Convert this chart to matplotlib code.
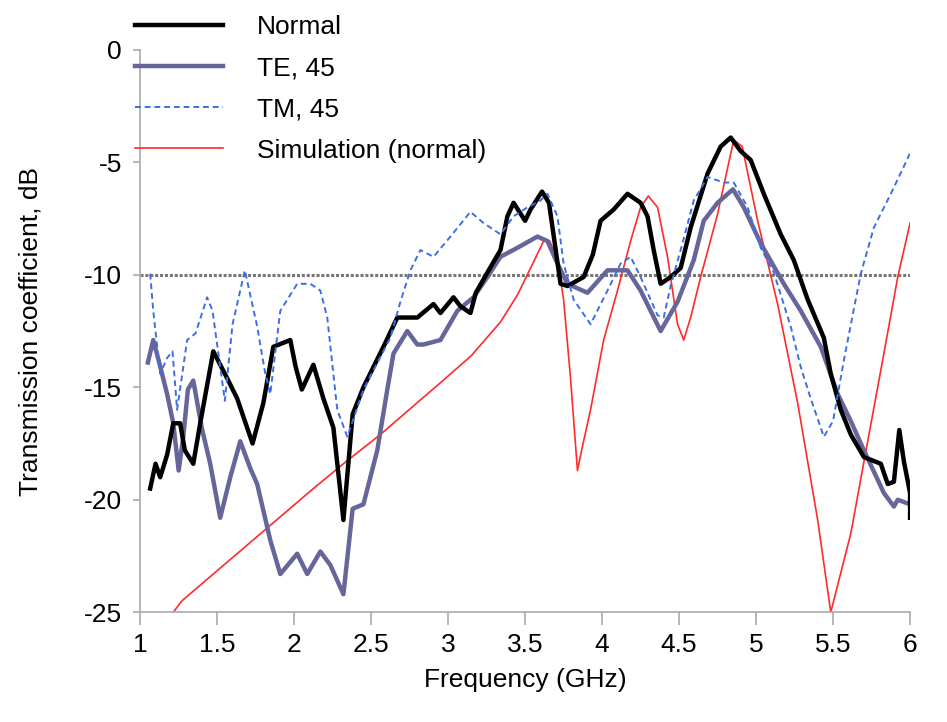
import matplotlib.pyplot as plt

# Normal incidence (measured)
normal_f = [1.065, 1.10, 1.13, 1.175, 1.215, 1.26, 1.29, 1.345, 1.39, 1.475, 1.565, 1.63, 1.73,
            1.80, 1.865, 1.975, 2.01, 2.05, 2.125, 2.19, 2.255, 2.32, 2.38, 2.45, 2.58, 2.67,
            2.80, 2.905, 2.95, 3.035, 3.08, 3.145, 3.18, 3.255, 3.34, 3.385, 3.425, 3.50, 3.535,
            3.61, 3.655, 3.73, 3.775, 3.88, 3.94, 3.99, 4.075, 4.165, 4.25, 4.295, 4.335, 4.38,
            4.445, 4.51, 4.575, 4.685, 4.77, 4.835, 4.90, 4.965, 5.05, 5.16, 5.245, 5.335, 5.44,
            5.485, 5.55, 5.615, 5.70, 5.81, 5.855, 5.895, 5.93, 5.96, 6.0, 6.0]
normal_db = [-19.5, -18.4, -19.0, -18.0, -16.6, -16.6, -17.8, -18.4, -16.6, -13.4, -14.6, -15.5, -17.5,
             -15.7, -13.2, -12.9, -14.1, -15.1, -14.0, -15.5, -16.8, -20.9, -16.2, -15.0, -13.2, -11.9,
             -11.9, -11.3, -11.7, -11.0, -11.4, -11.7, -10.8, -9.9, -8.9, -7.4, -6.8, -7.6, -7.1,
             -6.3, -6.8, -10.4, -10.5, -10.1, -9.1, -7.6, -7.1, -6.4, -6.8, -7.4, -8.9, -10.4,
             -10.1, -9.7, -7.9, -5.5, -4.3, -3.9, -4.5, -4.9, -6.4, -8.2, -9.35, -11.1, -12.8,
             -14.4, -16.0, -17.1, -18.1, -18.4, -19.3, -19.2, -16.9, -18.3, -19.7, -20.8]

# TE, 45 deg
te_f = [1.05, 1.085, 1.12, 1.175, 1.215, 1.25, 1.28, 1.31, 1.345, 1.40, 1.455, 1.52, 1.585, 1.65,
        1.715, 1.76, 1.845, 1.91, 2.02, 2.085, 2.17, 2.235, 2.32, 2.38, 2.45, 2.54, 2.605, 2.645,
        2.735, 2.80, 2.84, 2.95, 3.06, 3.165, 3.255, 3.34, 3.45, 3.58, 3.645, 3.71, 3.775, 3.905,
        4.035, 4.165, 4.25, 4.38, 4.49, 4.595, 4.66, 4.75, 4.85, 4.92, 5.03, 5.18, 5.29, 5.42,
        5.53, 5.615, 5.70, 5.83, 5.895, 5.92, 6.0]
te_db = [-13.9, -12.9, -13.8, -15.3, -16.6, -18.7, -17.2, -15.1, -14.7, -16.8, -18.4, -20.8, -19.0, -17.4,
         -18.6, -19.3, -21.8, -23.3, -22.4, -23.3, -22.3, -22.9, -24.2, -20.4, -20.2, -17.8, -15.1, -13.5,
         -12.5, -13.1, -13.1, -12.9, -11.6, -11.0, -10.1, -9.2, -8.8, -8.3, -8.5, -9.5, -10.4, -10.8,
         -9.8, -9.8, -10.7, -12.5, -11.2, -9.35, -7.6, -6.8, -6.2, -7.0, -8.6, -10.4, -11.6, -13.2,
         -15.3, -16.5, -17.8, -19.7, -20.3, -20.0, -20.2]

# TM, 45 deg
tm_f = [1.065, 1.085, 1.13, 1.175, 1.21, 1.24, 1.28, 1.305, 1.36, 1.435, 1.47, 1.50, 1.55, 1.60,
        1.68, 1.76, 1.81, 1.845, 1.91, 2.02, 2.105, 2.17, 2.215, 2.28, 2.345, 2.45, 2.625, 2.69,
        2.755, 2.82, 2.905, 3.015, 3.145, 3.23, 3.34, 3.425, 3.515, 3.60, 3.645, 3.71, 3.75, 3.815,
        3.925, 4.035, 4.12, 4.185, 4.25, 4.36, 4.40, 4.445, 4.53, 4.595, 4.685, 4.79, 4.855, 4.945,
        5.03, 5.115, 5.225, 5.29, 5.355, 5.44, 5.50, 5.57, 5.68, 5.765, 5.875, 6.0]
tm_db = [-9.95, -11.6, -14.4, -13.7, -13.4, -16.0, -14.1, -12.9, -12.6, -11.0, -11.6, -13.1, -15.6, -12.2,
         -9.8, -12.3, -14.3, -15.3, -11.6, -10.4, -10.4, -10.7, -11.9, -16.0, -17.2, -15.1, -12.8, -11.2,
         -9.8, -8.9, -9.2, -8.3, -7.2, -7.7, -8.2, -7.4, -7.0, -6.7, -6.4, -7.4, -9.5, -11.1,
         -12.2, -10.7, -9.5, -9.2, -10.1, -11.8, -11.9, -10.5, -8.4, -6.7, -5.65, -5.9, -5.9, -7.0,
         -8.8, -9.9, -12.3, -14.1, -15.5, -17.2, -16.5, -13.8, -9.95, -7.9, -6.4, -4.6]

# Simulation (normal)
sim_f = [1.215, 1.27, 1.475, 1.80, 2.125, 2.32, 2.56, 2.78, 2.95, 3.15, 3.34, 3.45, 3.55, 3.62, 3.66,
         3.71, 3.75, 3.795, 3.84, 3.87, 3.925, 4.01, 4.10, 4.185, 4.25, 4.30, 4.36, 4.425, 4.49, 4.53,
         4.575, 4.64, 4.75, 4.855, 4.91, 5.01, 5.14, 5.27, 5.40, 5.485, 5.615, 5.725, 5.83, 5.92, 6.0]
sim_db = [-25.0, -24.5, -23.3, -21.4, -19.5, -18.4, -17.1, -15.8, -14.8, -13.6, -12.1, -10.9, -9.5, -8.5, -8.5,
          -9.35, -11.1, -14.6, -18.7, -17.7, -16.0, -12.9, -10.7, -8.5, -7.0, -6.5, -7.0, -9.2, -12.2, -12.9,
          -11.9, -10.1, -7.3, -4.0, -4.3, -7.6, -11.3, -15.7, -20.9, -25.0, -21.5, -17.4, -13.5, -10.1, -7.7]

x_ticks = [1, 1.5, 2, 2.5, 3, 3.5, 4, 4.5, 5, 5.5, 6]
x_labels = ["1", "1.5", "2", "2.5", "3", "3.5", "4", "4.5", "5", "5.5", "6"]
y_ticks = [0, -5, -10, -15, -20, -25]

plt.rcParams['font.family'] = ['Liberation Sans', 'DejaVu Sans']
plt.rcParams['axes.unicode_minus'] = False

fig = plt.figure(figsize=(9.47, 7.22), dpi=100)
ax = fig.add_axes([0.148, 0.152, 0.813, 0.779])

ax.axhline(-10, color='#777777', linestyle=(0, (1, 0.6)), linewidth=2.2, zorder=1)
ax.plot(normal_f, normal_db, color='black', linewidth=3.2, label='Normal', zorder=4)
ax.plot(te_f, te_db, color='#66669a', linewidth=3.2, label='TE, 45', zorder=3)
ax.plot(tm_f, tm_db, color='#3c6ee6', linewidth=1.4, linestyle=(0, (3, 2)), label='TM, 45', zorder=5)
ax.plot(sim_f, sim_db, color='#ff2a2a', linewidth=1.2, label='Simulation (normal)', zorder=2)

ax.set_xlim(1, 6)
ax.set_ylim(-25, 0)
ax.set_xticks(x_ticks)
ax.set_xticklabels(x_labels)
ax.set_yticks(y_ticks)
for s in ['top', 'right']:
    ax.spines[s].set_visible(False)
for s in ['left', 'bottom']:
    ax.spines[s].set_color('#aaaaaa')
    ax.spines[s].set_linewidth(1.2)
ax.tick_params(axis='x', direction='out', length=9, width=1.2, color='#aaaaaa', labelsize=19, pad=6)
ax.tick_params(axis='y', direction='out', length=5, width=1.2, color='#aaaaaa', labelsize=19, pad=8)

ax.set_xlabel('Frequency (GHz)', fontsize=19, labelpad=8)
ax.set_ylabel('Transmission coefficient, dB', fontsize=19, labelpad=30)

fig.legend(loc='upper left', bbox_to_anchor=(0.118, 1.012), frameon=False, fontsize=19,
           handlelength=3.3, handletextpad=1.3, labelspacing=0.65)

fig.savefig('out.png', dpi=100)
